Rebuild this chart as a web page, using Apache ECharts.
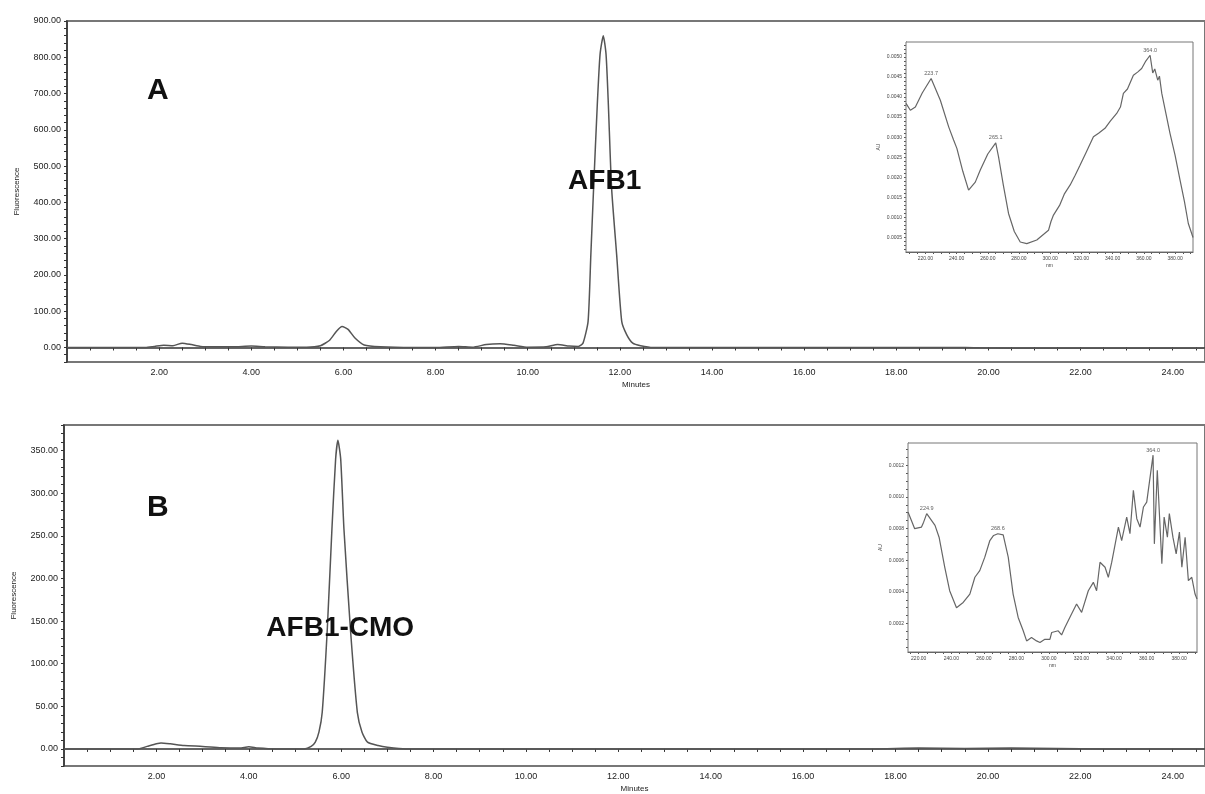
<!DOCTYPE html>
<html>
<head>
<meta charset="utf-8">
<title>AFB1 / AFB1-CMO HPLC</title>
<script src="https://cdn.jsdelivr.net/npm/echarts@6.0.0/dist/echarts.min.js"></script>
<style>
html,body{margin:0;padding:0;background:#fff;}
#main{width:1205px;height:794px;}
</style>
</head>
<body>
<div id="main"></div>
<script>
// chromatogram A : [minutes, fluorescence]
var traceA = [
	[0, 0], [1.7, 0], [1.9, 3], [2.1, 6], [2.3, 5], [2.5, 12], [2.7, 8], [2.9, 3],
	[3.2, 2], [3.6, 2], [4.0, 4], [4.3, 2], [4.8, 1], [5.2, 1], [5.5, 5], [5.7, 20],
	[5.85, 45], [5.97, 58], [6.1, 50], [6.25, 26], [6.45, 7], [6.8, 2], [7.5, 0],
	[8.0, 0], [8.5, 3], [8.8, 1], [9.1, 8], [9.4, 10], [9.7, 6], [10.0, 1], [10.4, 2],
	[10.65, 8], [10.9, 4], [11.1, 3], [11.2, 12], [11.31, 72], [11.37, 256], [11.43, 440],
	[11.51, 670], [11.57, 808], [11.64, 859], [11.70, 808], [11.75, 670], [11.82, 440],
	[11.93, 256], [12.04, 72], [12.15, 35], [12.28, 12], [12.45, 5], [12.72, 0],
	[19.5, 0], [19.8, -1], [20.5, -2], [24.7, -2]
];
// chromatogram B
var traceB = [
	[0, 0], [1.6, 0], [1.8, 3], [2.0, 6], [2.1, 7], [2.3, 6], [2.6, 4], [3.0, 3],
	[3.4, 1.5], [3.8, 1], [4.0, 2.5], [4.2, 1], [4.6, 0], [5.2, 0], [5.35, 3], [5.44, 8],
	[5.52, 20], [5.59, 43], [5.70, 141], [5.80, 258], [5.88, 340], [5.93, 362], [5.99, 340],
	[6.06, 258], [6.20, 141], [6.35, 43], [6.45, 20], [6.57, 8], [6.8, 4], [7.0, 2],
	[7.4, 0], [17.5, 0], [18.5, 1], [19.5, 0.5], [20.5, 1], [21.5, 0.5], [22.5, 0], [24.7, 0]
];
// UV spectrum of AFB1 : [nm, AU]
var spectrumA = [
	[207.6, 0.00384], [210.4, 0.00367], [213.6, 0.00375], [218, 0.00410], [223.7, 0.00446],
	[229.6, 0.00392], [235, 0.00325], [238.1, 0.00293], [240.2, 0.00272], [244, 0.00215],
	[247.7, 0.00168], [248.8, 0.00164], [252, 0.00188], [255.2, 0.00218], [260, 0.00258],
	[265.1, 0.00286], [266.9, 0.00251], [270, 0.00180], [273.3, 0.00110], [277, 0.00065],
	[280.8, 0.00039], [285, 0.00035], [291.4, 0.00044], [298.9, 0.00068], [300.5, 0.00090],
	[302.1, 0.00106], [306, 0.00130], [309, 0.00158], [312.8, 0.00181], [316, 0.00205],
	[319.1, 0.00230], [323, 0.00262], [327.7, 0.00301], [331, 0.00310], [335.1, 0.00322],
	[338.5, 0.00340], [342.6, 0.00359], [345, 0.00375], [346.9, 0.00409], [349.5, 0.00420],
	[353.3, 0.00454], [356, 0.00462], [358.6, 0.00471], [361, 0.00488], [364.0, 0.00504],
	[365.7, 0.00460], [367, 0.00470], [368.9, 0.00442], [370, 0.00452], [371.5, 0.00409],
	[374, 0.00362], [376.8, 0.00309], [380, 0.00255], [383.2, 0.00193], [386, 0.00140],
	[388.5, 0.00085], [390.5, 0.00062], [391.5, 0.00050]
];
// UV spectrum of AFB1-CMO
var spectrumB = [
	[213.4, 0.000904], [215.5, 0.000851], [217.5, 0.000799], [221.7, 0.000809], [223, 0.00084],
	[224.9, 0.000894], [230, 0.00082], [232.5, 0.000745], [236, 0.000555], [239, 0.000407],
	[243.2, 0.0003], [247.3, 0.000333], [251.4, 0.000386], [254.5, 0.000492], [257.5, 0.000534],
	[260.6, 0.000619], [263.7, 0.000724], [266, 0.000756], [268.6, 0.000767], [271.9, 0.000760],
	[275, 0.000619], [278, 0.000386], [281.1, 0.000238], [284.2, 0.000154], [286.3, 0.00009],
	[289.3, 0.000111], [292.4, 0.00009], [294.5, 0.00008], [297.5, 0.0001], [300.6, 0.0001],
	[301.7, 0.000143], [305.7, 0.000154], [307.8, 0.000128], [309.8, 0.000175], [313.9, 0.00026],
	[317, 0.000323], [320.1, 0.00027], [324.2, 0.000407], [327.3, 0.00046], [329.3, 0.000407],
	[331.4, 0.000587], [334.5, 0.000555], [336.5, 0.000492], [338.6, 0.000587], [342.7, 0.000809],
	[344.7, 0.000724], [347.8, 0.000872], [349.8, 0.000767], [351.9, 0.001041], [354, 0.000862],
	[356, 0.000809], [358.1, 0.000936], [360.1, 0.000967], [364.0, 0.001263], [364.8, 0.000703],
	[366.6, 0.001168], [369.4, 0.000577], [370.8, 0.000872], [372.8, 0.000745], [374, 0.000894],
	[376.2, 0.000745], [378.2, 0.00064], [380.2, 0.000777], [381.7, 0.000555], [383.7, 0.000745],
	[385.7, 0.000471], [387.8, 0.000492], [389.8, 0.000386], [391, 0.000355]
];
// spectrum maxima
var peaksA = [[223.7, 0.00446], [265.1, 0.00286], [364.0, 0.00504]];
var peaksB = [[224.9, 0.000894], [268.6, 0.000767], [364.0, 0.001263]];
// compound names : [minutes, fluorescence, name]
var namesA = [[11.67, 458, 'AFB1']];
var namesB = [[5.98, 141, 'AFB1-CMO']];
// tick labels
var minuteLabels = [2, 4, 6, 8, 10, 12, 14, 16, 18, 20, 22, 24];
var fluorLabelsA = [0, 100, 200, 300, 400, 500, 600, 700, 800, 900];
var fluorLabelsB = [0, 50, 100, 150, 200, 250, 300, 350];
var nmLabels = [220, 240, 260, 280, 300, 320, 340, 360, 380];
var auLabelsA = [0.0005, 0.0010, 0.0015, 0.0020, 0.0025, 0.0030, 0.0035, 0.0040, 0.0045, 0.0050];
var auLabelsB = [0.0002, 0.0004, 0.0006, 0.0008, 0.0010, 0.0012];

// small tick positions
function steps(from, to, step) {
	var out = [];
	for (var v = from; v <= to + 1e-9; v += step) out.push(+v.toFixed(6));
	return out;
}

var lineColor = '#555';
var axisColor = '#333';
var font = 'Liberation Sans, Arial, sans-serif';

function mainX(gridIndex, gap) {
	return {
		type: 'value', gridIndex: gridIndex, min: 0, max: 24.7,
		name: 'Minutes', nameLocation: 'middle', nameGap: gap,
		nameTextStyle: { fontSize: 8, color: '#222', fontFamily: font },
		axisLine: { lineStyle: { color: axisColor, width: 1.5 } },
		axisTick: { show: true, length: 3, customValues: steps(0.5, 24.5, 0.5), lineStyle: { color: axisColor } },
		axisLabel: {
			customValues: minuteLabels, fontSize: 9, color: '#222', margin: 6, fontFamily: font,
			formatter: function (v) { return v.toFixed(2); }
		},
		splitLine: { show: false }
	};
}
function mainY(gridIndex, min, max, labels, tickStep) {
	return {
		type: 'value', gridIndex: gridIndex, min: min, max: max,
		name: 'Fluorescence', nameLocation: 'middle', nameGap: 46, nameRotate: 90,
		nameTextStyle: { fontSize: 8, color: '#222', fontFamily: font },
		axisLine: { show: true, lineStyle: { color: axisColor, width: 1.5 } },
		axisTick: { show: true, length: 3, customValues: steps(min, max, tickStep), lineStyle: { color: axisColor } },
		axisLabel: {
			customValues: labels, fontSize: 9, color: '#222', margin: 6, fontFamily: font,
			formatter: function (v) { return v.toFixed(2); }
		},
		splitLine: { show: false }
	};
}
function insetX(gridIndex, min, max) {
	return {
		type: 'value', gridIndex: gridIndex, min: min, max: max,
		name: 'nm', nameLocation: 'middle', nameGap: 11,
		nameTextStyle: { fontSize: 5, color: '#444', fontFamily: font },
		axisLine: { lineStyle: { color: '#555' } },
		axisTick: { length: 2, customValues: steps(210, 390, 5), lineStyle: { color: '#555' } },
		axisLabel: {
			customValues: nmLabels, fontSize: 5, color: '#444', margin: 4, fontFamily: font,
			formatter: function (v) { return v.toFixed(2); }
		},
		splitLine: { show: false }
	};
}
function insetY(gridIndex, min, max, labels, tickStep) {
	return {
		type: 'value', gridIndex: gridIndex, min: min, max: max,
		name: 'AU', nameLocation: 'middle', nameGap: 25, nameRotate: 90,
		nameTextStyle: { fontSize: 5, color: '#444', fontFamily: font },
		axisLine: { show: true, lineStyle: { color: '#555' } },
		axisTick: { show: true, length: 2, customValues: steps(tickStep, max, tickStep), lineStyle: { color: '#555' } },
		axisLabel: {
			customValues: labels, fontSize: 5, color: '#444', margin: 4, fontFamily: font,
			formatter: function (v) { return v.toFixed(4); }
		},
		splitLine: { show: false }
	};
}
function nameSeries(idx, data) {
	return {
		type: 'scatter', xAxisIndex: idx, yAxisIndex: idx, data: data, symbolSize: 0, silent: true,
		itemStyle: { color: '#111', opacity: 1 },
		label: {
			show: true, position: 'inside', fontSize: 28, fontWeight: 'bold', color: '#111',
			textBorderWidth: 0, opacity: 1, fontFamily: font,
			formatter: function (p) { return p.value[2]; }
		},
		z: 5
	};
}
function peakSeries(idx, data) {
	return {
		type: 'scatter', xAxisIndex: idx, yAxisIndex: idx, data: data, symbolSize: 0, silent: true,
		label: {
			show: true, position: 'top', distance: 2, fontSize: 5.5, color: '#333', fontFamily: font,
			formatter: function (p) { return p.value[0].toFixed(1); }
		},
		z: 6
	};
}

var myChart = echarts.init(document.getElementById('main'));
var option = {
	backgroundColor: '#fff',
	animation: false,
	grid: [
		{ left: 67, top: 21, right: -3, height: 341, show: true, borderColor: '#777', borderWidth: 2 },
		{ left: 64, top: 425, right: -3, height: 342, show: true, borderColor: '#777', borderWidth: 2 },
		{ left: 906, top: 42, width: 287, height: 210, show: true, borderColor: '#777', borderWidth: 1, backgroundColor: '#fff', z: 3 },
		{ left: 908, top: 443, width: 289, height: 209, show: true, borderColor: '#777', borderWidth: 1, backgroundColor: '#fff', z: 3 }
	],
	xAxis: [
		mainX(0, 19),
		mainX(1, 19),
		insetX(2, 207.6, 391.5),
		insetX(3, 213.4, 391)
	],
	yAxis: [
		mainY(0, -40, 900, fluorLabelsA, 20),
		mainY(1, -20, 380, fluorLabelsB, 10),
		insetY(2, 0.00014, 0.00537, auLabelsA, 0.0001),
		insetY(3, 0.00002, 0.00134, auLabelsB, 0.00005)
	],
	graphic: [
		{ type: 'text', left: 147, top: 76, style: { text: 'A', fontSize: 30, fontWeight: 'bold', fill: '#111', fontFamily: font } },
		{ type: 'text', left: 147, top: 493, style: { text: 'B', fontSize: 30, fontWeight: 'bold', fill: '#111', fontFamily: font } }
	],
	series: [
		{ type: 'line', xAxisIndex: 0, yAxisIndex: 0, data: traceA, showSymbol: false, smooth: 0.2, lineStyle: { color: lineColor, width: 1.5 } },
		{ type: 'line', xAxisIndex: 1, yAxisIndex: 1, data: traceB, showSymbol: false, smooth: 0.2, lineStyle: { color: lineColor, width: 1.5 } },
		{ type: 'line', xAxisIndex: 2, yAxisIndex: 2, data: spectrumA, showSymbol: false, lineStyle: { color: '#666', width: 1.2 }, z: 4 },
		{ type: 'line', xAxisIndex: 3, yAxisIndex: 3, data: spectrumB, showSymbol: false, lineStyle: { color: '#666', width: 1.2 }, z: 4 },
		nameSeries(0, namesA),
		nameSeries(1, namesB),
		peakSeries(2, peaksA),
		peakSeries(3, peaksB)
	]
};
myChart.setOption(option);
</script>
</body>
</html>
